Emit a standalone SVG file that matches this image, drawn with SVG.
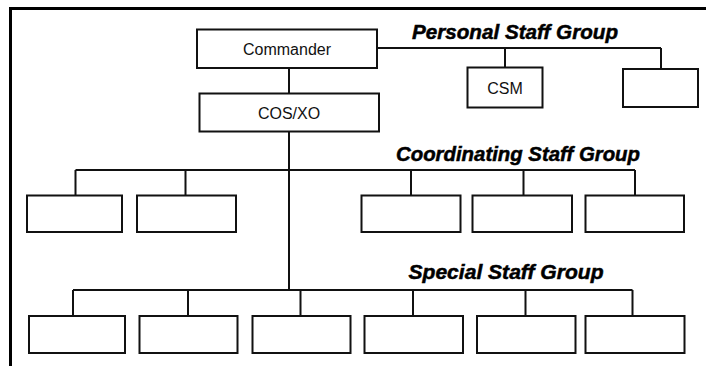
<svg xmlns="http://www.w3.org/2000/svg" width="706" height="366" viewBox="0 0 706 366">
<style>
.box{fill:#ffffff;stroke:#111;stroke-width:2}
.ln{fill:none;stroke:#111;stroke-width:2}
.lbl{font-family:"Liberation Sans",Arial,sans-serif;font-size:16px;fill:#111;text-anchor:middle}
.grp{font-family:"Liberation Sans",Arial,sans-serif;font-size:20px;font-weight:bold;font-style:italic;fill:#000;stroke:#000;stroke-width:0.5}
</style>
<rect x="0" y="0" width="706" height="366" fill="#ffffff"/>
<path d="M10.5,366 V8.5 H706" fill="none" stroke="#000" stroke-width="3"/>
<g id="connectors">
<path class="ln" d="M289,68 V94 M289,132 V290"/>
<path class="ln" d="M377,48 H661 M505,48 V67.5 M661,48 V69"/>
<path class="ln" d="M75.5,170 H635 M75.5,170 V195.5 M185.5,170 V195.5 M411,170 V195.5 M523.5,170 V195.5 M635,170 V195.5"/>
<path class="ln" d="M73,290 H632.5 M73,290 V316 M188,290 V316 M300.5,290 V316 M413,290 V316 M525.5,290 V316 M632.5,290 V316"/>
</g>
<g id="labels">
<text class="grp" x="412" y="39" textLength="206" lengthAdjust="spacingAndGlyphs">Personal Staff Group</text>
<text class="grp" x="396" y="161" textLength="244" lengthAdjust="spacingAndGlyphs">Coordinating Staff Group</text>
<text class="grp" x="408.5" y="279" textLength="195" lengthAdjust="spacingAndGlyphs">Special Staff Group</text>
</g>
<g id="commander"><rect class="box" x="197" y="29.5" width="180" height="38.5"/><text class="lbl" x="287" y="54.5">Commander</text></g>
<g id="cosxo"><rect class="box" x="199.5" y="93.5" width="179.5" height="38"/><text class="lbl" x="289" y="118.5">COS/XO</text></g>
<g id="csm"><rect class="box" x="467.5" y="67.5" width="75" height="40"/><text class="lbl" x="505" y="93.5">CSM</text></g>
<g id="personal2"><rect class="box" x="623" y="69" width="75" height="38"/></g>
<g id="coord1"><rect class="box" x="27" y="195.5" width="95" height="36.5"/></g>
<g id="coord2"><rect class="box" x="137" y="195.5" width="99" height="36.5"/></g>
<g id="coord3"><rect class="box" x="361.5" y="195.5" width="99" height="36.5"/></g>
<g id="coord4"><rect class="box" x="472.5" y="195.5" width="99.5" height="36.5"/></g>
<g id="coord5"><rect class="box" x="585.5" y="195.5" width="98.5" height="36.5"/></g>
<g id="special1"><rect class="box" x="29" y="316" width="96" height="37"/></g>
<g id="special2"><rect class="box" x="139.5" y="316" width="98" height="37"/></g>
<g id="special3"><rect class="box" x="252.5" y="316" width="98" height="37"/></g>
<g id="special4"><rect class="box" x="364.5" y="316" width="98.5" height="37"/></g>
<g id="special5"><rect class="box" x="477" y="316" width="98.5" height="37"/></g>
<g id="special6"><rect class="box" x="585.5" y="316" width="99" height="37"/></g>
</svg>
